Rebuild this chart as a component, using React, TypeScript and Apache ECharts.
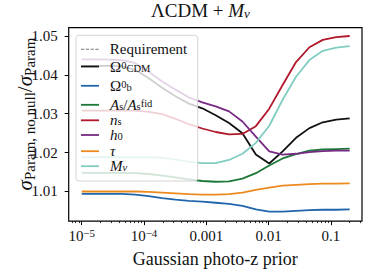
import React, { useEffect, useRef } from "react";
import * as echarts from "echarts";

// Gaussian photo-z prior values (x)
const priorValues = [
  1e-5, 1.641e-5, 2.692e-5, 4.416e-5, 7.244e-5, 1.189e-4, 1.95e-4, 3.2e-4,
  5.25e-4, 8.61e-4, 1.413e-3, 2.317e-3, 3.8e-3, 6.24e-3, 1.023e-2, 1.679e-2,
  2.754e-2, 4.52e-2, 7.41e-2, 0.1216, 0.2,
];

const omegaCdm = [
  1.0423, 1.0423, 1.0423, 1.0422, 1.0413, 1.0391, 1.0367, 1.0345, 1.0326,
  1.0314, 1.0296, 1.0276, 1.025, 1.0195, 1.0172, 1.0203, 1.0238, 1.0263,
  1.0278, 1.0285, 1.0288,
];
const omegaB = [
  1.0094, 1.0094, 1.0094, 1.0094, 1.0092, 1.0088, 1.0083, 1.0079, 1.0076,
  1.0074, 1.0071, 1.0068, 1.0063, 1.0054, 1.0048, 1.0048, 1.005, 1.0052,
  1.0053, 1.0053, 1.0054,
];
const amplitudeS = [
  1.0148, 1.0148, 1.0148, 1.0148, 1.0147, 1.0145, 1.0141, 1.0136, 1.0131,
  1.0127, 1.0125, 1.0126, 1.0133, 1.0147, 1.0167, 1.0185, 1.0196, 1.0205,
  1.0208, 1.0209, 1.021,
];
const spectralIndex = [
  1.0308, 1.0308, 1.0308, 1.0308, 1.0308, 1.0305, 1.0299, 1.0287, 1.0273,
  1.0262, 1.0253, 1.0247, 1.0248, 1.0268, 1.0313, 1.0374, 1.0433, 1.0471,
  1.049, 1.0497, 1.05,
];
const hubble = [
  1.044, 1.044, 1.0439, 1.0438, 1.043, 1.0408, 1.0383, 1.0362, 1.0342,
  1.0329, 1.0319, 1.0306, 1.028, 1.0241, 1.0203, 1.0195, 1.0197, 1.0201,
  1.0204, 1.0205, 1.0205,
];
const opticalDepth = [
  1.01, 1.01, 1.01, 1.01, 1.01, 1.0099, 1.0097, 1.0095, 1.0093, 1.0092,
  1.0092, 1.0093, 1.0097, 1.0104, 1.011, 1.0115, 1.0117, 1.0119, 1.012,
  1.012, 1.0121,
];
const neutrinoMass = [
  1.0188, 1.0188, 1.0188, 1.0188, 1.0188, 1.0188, 1.0187, 1.0182, 1.0177,
  1.0173, 1.0173, 1.0181, 1.0197, 1.0225, 1.0269, 1.0336, 1.0395, 1.0438,
  1.0462, 1.047, 1.0474,
];

const requirementPrior = 0.002;

const xTickValues = [1e-5, 1e-4, 1e-3, 1e-2, 1e-1];
const xTickLabels = ["10{sup|−5}", "10{sup|−4}", "0.001", "0.01", "0.1"];
const xMinorTickValues = [
  7e-6, 8e-6, 9e-6,
  2e-5, 3e-5, 4e-5, 5e-5, 6e-5, 7e-5, 8e-5, 9e-5,
  2e-4, 3e-4, 4e-4, 5e-4, 6e-4, 7e-4, 8e-4, 9e-4,
  2e-3, 3e-3, 4e-3, 5e-3, 6e-3, 7e-3, 8e-3, 9e-3,
  2e-2, 3e-2, 4e-2, 5e-2, 6e-2, 7e-2, 8e-2, 9e-2,
  0.2, 0.3,
];
const yTickValues = [1.01, 1.02, 1.03, 1.04, 1.05];

const seriesNames = ["ΩCDM", "Ωb", "As/Asfid", "ns", "h0", "τ", "Mν"];
const seriesValues = [omegaCdm, omegaB, amplitudeS, spectralIndex, hubble, opticalDepth, neutrinoMass];
const seriesColors = ["#111111", "#2166ac", "#1b7837", "#b2182b", "#762a83", "#ec8a1f", "#80cdc1"];
const legendLabels: Record<string, string> = {
  Requirement: "{sp| }{r|Requirement}",
  "ΩCDM": "{sp| }{r|Ω}{sup|0}{sub|CDM}",
  "Ωb": "{sp| }{r|Ω}{sup|0}{sub|b}",
  "As/Asfid": "{sp| }{i|A}{sub|s}{r|/}{i|A}{sub|s}{sup|fid}",
  ns: "{sp| }{i|n}{sub|s}",
  h0: "{sp| }{i|h}{sub|0}",
  "τ": "{sp| }{i|τ}",
  "Mν": "{sp| }{i|M}{subi|ν}",
};

const FONT = "Liberation Serif";
const SOLID_ICON = "path://M0,0H18V1.8H0Z";
const DASHED_ICON = "path://M0,0H3.2V1H0Z M4.8,0H8V1H4.8Z M9.6,0H12.8V1H9.6Z M14.4,0H17.6V1H14.4Z";

export default function App() {
  const ref = useRef<HTMLDivElement>(null);
  useEffect(() => {
    if (!ref.current) return;
    const chart = echarts.init(ref.current, undefined, { renderer: "svg" });

    const gridLeft = 68.7;
    const gridRight = 362;
    const gridTop = 27.7;
    const gridBottom = 221.7;

    const base = { fontFamily: FONT, fontWeight: "normal", color: "#111" };
    const rich = {
      sp: { ...base, width: 6, fontSize: 15, lineHeight: 14 },
      r: { ...base, fontSize: 15, lineHeight: 14 },
      i: { ...base, fontSize: 15, lineHeight: 14, fontStyle: "italic" },
      sup: { ...base, fontSize: 10.5, lineHeight: 10, verticalAlign: "top" },
      sub: { ...base, fontSize: 10.5, lineHeight: 2, verticalAlign: "bottom" },
      subi: { ...base, fontSize: 10.5, lineHeight: 2, verticalAlign: "bottom", fontStyle: "italic" },
    };

    const legendOrder = ["Requirement", ...seriesNames];
    const legendCenters = [48.7, 66, 85.3, 104.3, 119.8, 134.5, 150.7, 165.7];

    const legends = legendOrder.map((name, k) => ({
      data: [name],
      left: 81,
      top: legendCenters[k] - 7,
      padding: 0,
      icon: k === 0 ? DASHED_ICON : SOLID_ICON,
      itemWidth: 18,
      itemHeight: k === 0 ? 1 : 1.8,
      selectedMode: false,
      z: 5,
      formatter: (n: string) => legendLabels[n],
      textStyle: { ...base, fontSize: 15, rich },
    }));

    const lineSeries = seriesNames.map((name, k) => ({
      name,
      type: "line",
      data: priorValues.map((x, i) => [x, seriesValues[k][i]]),
      symbol: "none",
      showSymbol: false,
      lineStyle: { color: seriesColors[k], width: 1.8 },
      itemStyle: { color: seriesColors[k] },
      z: 2,
    }));

    chart.setOption({
      animation: false,
      textStyle: { fontFamily: FONT, fontWeight: "normal" },
      title: {
        text: "{n|ΛCDM + }{i|M}{s|ν}",
        left: 151,
        top: 0,
        padding: 0,
        textStyle: {
          ...base,
          fontSize: 19,
          rich: {
            n: { ...base, fontSize: 19, lineHeight: 20 },
            i: { ...base, fontSize: 19, lineHeight: 20, fontStyle: "italic" },
            s: { ...base, fontSize: 13, lineHeight: 8, verticalAlign: "bottom", fontStyle: "italic" },
          },
        },
      },
      grid: {
        left: gridLeft,
        right: 374 - gridRight,
        top: gridTop,
        bottom: 273 - gridBottom,
        show: true,
        borderColor: "#000",
        borderWidth: 1.2,
        backgroundColor: "transparent",
      },
      legend: legends,
      xAxis: [
        {
          type: "log",
          logBase: 10,
          min: 6.18e-6,
          max: 0.3155,
          axisLine: { show: false },
          splitLine: { show: false },
          axisTick: { show: true, length: 4, lineStyle: { color: "#000", width: 1 }, customValues: xTickValues },
          axisLabel: {
            customValues: xTickValues,
            margin: 6,
            formatter: (v: number) => {
              const idx = xTickValues.findIndex((t) => Math.abs(Math.log10(t) - Math.log10(v)) < 1e-6);
              return idx >= 0 ? xTickLabels[idx] : "";
            },
            rich: {
              sup: { ...base, fontSize: 11, lineHeight: 12, verticalAlign: "top" },
            },
            ...base,
            fontSize: 15,
            lineHeight: 18,
          },
          name: "Gaussian photo-z prior",
          nameLocation: "middle",
          nameGap: 27,
          nameTextStyle: { ...base, fontSize: 18 },
        },
        {
          type: "log",
          logBase: 10,
          min: 6.18e-6,
          max: 0.3155,
          position: "bottom",
          axisLine: { show: false },
          splitLine: { show: false },
          axisTick: { show: true, length: 2, lineStyle: { color: "#000", width: 0.8 }, customValues: xMinorTickValues },
          axisLabel: { show: false },
        },
      ],
      yAxis: {
        type: "value",
        min: 1.00238,
        max: 1.05213,
        axisLine: { show: false },
        splitLine: { show: false },
        axisTick: { show: true, length: 4, lineStyle: { color: "#000", width: 1 }, customValues: yTickValues },
        axisLabel: {
          customValues: yTickValues,
          margin: 11,
          formatter: (v: number) => v.toFixed(2),
          ...base,
          fontSize: 15,
        },
      },
      graphic: [
        {
          type: "rect",
          z: 3,
          shape: { x: 76, y: 35.3, width: 121.7, height: 145.7, r: 3 },
          style: { fill: "rgba(255,255,255,0.8)", stroke: "#d4d4d4", lineWidth: 1 },
          silent: true,
        },
        {
          type: "text",
          x: 25,
          y: 114,
          rotation: Math.PI / 2,
          z: 5,
          style: {
            text: "{i|σ}{s|Param, no null}{n|/}{i|σ}{s|Param}",
            align: "center",
            verticalAlign: "middle",
            fontFamily: FONT,
            rich: {
              i: { fontSize: 21, lineHeight: 24, fontFamily: FONT, fontStyle: "italic", fill: "#111" },
              n: { fontSize: 21, lineHeight: 24, fontFamily: FONT, fill: "#111" },
              s: { fontSize: 15, lineHeight: 12, verticalAlign: "bottom", fontFamily: FONT, fill: "#111" },
            },
          },
        },
      ],
      series: [
        {
          name: "Requirement",
          type: "line",
          data: [],
          symbol: "none",
          showSymbol: false,
          lineStyle: { color: "#777", width: 1, type: [4, 2] },
          itemStyle: { color: "#777" },
          markLine: {
            silent: true,
            symbol: "none",
            label: { show: false },
            lineStyle: { color: "#777", width: 1, type: [4, 2] },
            data: [{ xAxis: requirementPrior }],
          },
        },
        ...lineSeries,
      ],
    });

    return () => chart.dispose();
  }, []);

  return (
    <div
      ref={ref}
      style={{ position: "fixed", left: 0, top: 0, width: 374, height: 273, background: "#fff" }}
    />
  );
}
